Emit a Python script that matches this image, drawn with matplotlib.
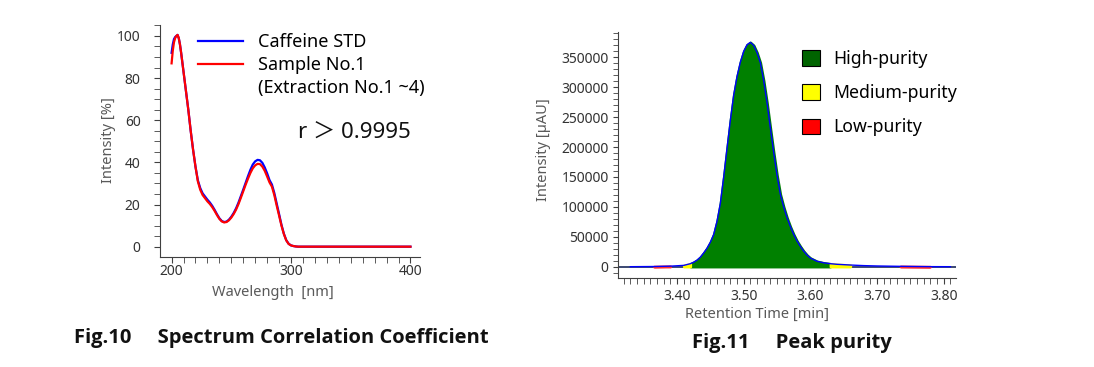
import matplotlib
matplotlib.use("Agg")

import matplotlib.pyplot as plt
import numpy as np
from matplotlib.lines import Line2D
from matplotlib.patches import Patch
from matplotlib.ticker import FormatStrFormatter, MultipleLocator

plt.rcParams["font.family"] = ["Noto Sans", "Noto Sans CJK JP", "DejaVu Sans"]

# ------------------------------------------------------------
# Fig.10 data: UV spectra
# ------------------------------------------------------------
wavelength = [200, 201, 202, 203, 204, 205, 206, 207, 208, 210, 212, 214, 216, 218,
              220, 222, 224, 226, 228, 230, 232, 234, 236, 238, 240, 242, 244, 246,
              248, 250, 252, 254, 256, 258, 260, 262, 264, 266, 268, 270, 272, 274,
              276, 278, 280, 282, 284, 286, 288, 290, 292, 294, 296, 298, 300, 302,
              304, 306, 400]

caffeine_std = [92, 96, 98.5, 99.5, 100, 100.5, 99, 96, 92, 83, 74, 65, 55, 46,
                38, 31.5, 27.8, 25.3, 23.8, 22.3, 21, 19.4, 17.5, 15.4, 13.5, 12.2, 11.7, 11.9,
                12.8, 14.2, 16, 18.2, 20.9, 24, 27.1, 30.3, 33.5, 36.5, 39, 40.5, 41.2, 41,
                39.8, 37.6, 34.8, 31.6, 29.5, 25.5, 20.5, 15.5, 10.4, 6.2, 3.1, 1.4, 0.6, 0.3,
                0.1, 0, 0]

sample_no1 = [87, 93, 97, 99, 100, 100.5, 99, 96, 92, 83, 74, 65, 55, 46,
              38, 31, 27, 24.5, 23, 21.5, 20.3, 18.8, 17, 15, 13.2, 12, 11.5, 11.7,
              12.5, 13.8, 15.5, 17.6, 20.2, 23.2, 26.3, 29.4, 32.3, 35, 37.2, 38.6, 39.3, 39.2,
              38, 36, 33.3, 30.5, 28.5, 24.5, 19.5, 14.8, 10, 6, 3, 1.3, 0.6, 0.3,
              0.1, 0, 0]

# ------------------------------------------------------------
# Fig.11 data: chromatogram with purity zones
# ------------------------------------------------------------
ret_time = [3.330, 3.365, 3.390, 3.410, 3.420, 3.425, 3.430, 3.435, 3.440, 3.445,
            3.450, 3.455, 3.460, 3.465, 3.470, 3.475, 3.480, 3.485, 3.490, 3.495,
            3.500, 3.505, 3.510, 3.515, 3.520, 3.525, 3.530, 3.535, 3.540, 3.545,
            3.550, 3.555, 3.560, 3.565, 3.570, 3.575, 3.580, 3.585, 3.590, 3.595,
            3.600, 3.610, 3.620, 3.630, 3.640, 3.660, 3.680, 3.700, 3.735, 3.760,
            3.780, 3.810]

intensity = [0, 300, 900, 2200, 5000, 7500, 11000, 16000, 23000, 31000,
             41000, 54000, 76000, 106000, 150000, 198000, 245000, 287000, 318000, 342000,
             360000, 371000, 375000, 370000, 358000, 341000, 311000, 274000, 232000, 191000,
             153000, 121000, 100000, 82000, 67000, 54000, 43000, 34000, 26000, 19500,
             14500, 9000, 6500, 5000, 4000, 2800, 1800, 1200, 600, 300,
             100, 0]

purity_names = ["High-purity", "Medium-purity", "Low-purity"]
purity_colors = ["#008000", "#ffff00", "#ff3030"]
purity_legend_colors = ["#006400", "#ffff00", "#ff0000"]
# (start, end) retention windows per purity class
purity_zones = {
    "High-purity": [(3.42, 3.63)],
    "Medium-purity": [(3.41, 3.42), (3.63, 3.66)],
    "Low-purity": [(3.365, 3.39), (3.735, 3.78)],
}

W, H = 1094, 367


def fx(px):
    return px / W


def fy(py):
    return 1 - py / H


fig = plt.figure(figsize=(W / 100, H / 100), dpi=100)

tick_color = "#404040"
label_color = "#595959"
caption_font = ["Open Sans", "DejaVu Sans"]

# ============================================================
# Left panel
# ============================================================
ax1 = fig.add_axes([fx(160), fy(257), fx(420) - fx(160), fy(25) - fy(257)])

ax1.plot(wavelength, caffeine_std, color="#0000ff", lw=1.6, zorder=2)
ax1.plot(wavelength, sample_no1, color="#ff0000", lw=1.6, zorder=3)

ax1.set_xlim(190.3, 408)
ax1.set_ylim(-4.9, 105.2)
ax1.xaxis.set_major_locator(MultipleLocator(100))
ax1.xaxis.set_minor_locator(MultipleLocator(10))
ax1.yaxis.set_major_locator(MultipleLocator(20))
ax1.yaxis.set_minor_locator(MultipleLocator(5))

for s in ["top", "right"]:
    ax1.spines[s].set_visible(False)
for s in ["left", "bottom"]:
    ax1.spines[s].set_color(tick_color)

ax1.tick_params(axis="both", which="both", direction="out", color=tick_color,
                labelcolor="#333333", labelsize=10)
ax1.tick_params(axis="y", which="both", length=4, pad=10)
ax1.tick_params(axis="x", which="both", length=4, pad=1)

ax1.set_xlabel("Wavelength  [nm]", fontsize=10.5, color=label_color)
ax1.xaxis.set_label_coords((273 - 160) / 260, (257 - 285) / 232)
ax1.set_ylabel("Intensity [%]", fontsize=10.5, color=label_color)
ax1.yaxis.set_label_coords((116 - 160) / 260, (257 - 140) / 232)

handles = [
    Line2D([], [], color="#0000ff", lw=1.6),
    Line2D([], [], color="#ff0000", lw=1.6),
    Line2D([], [], color="none"),
]
ax1.legend(handles, ["Caffeine STD", "Sample No.1", "(Extraction No.1 ~4)"],
           loc="upper left", bbox_to_anchor=(fx(198), fy(33)),
           bbox_transform=fig.transFigure, frameon=False, fontsize=13,
           handlelength=2.5, handletextpad=0.8, labelspacing=0.28,
           borderpad=0, borderaxespad=0)

ax1.text(306, 54, "r \uff1e 0.9995", fontsize=16, color="#111111",
         ha="left", va="center",
         family=["Noto Sans", "Noto Sans CJK JP", "DejaVu Sans"])

fig.text(fx(74), fy(343), "Fig.10     Spectrum Correlation Coefficient",
         fontsize=14.5, fontweight="bold", ha="left", va="baseline", color="#111111",
         family=caption_font)

# ============================================================
# Right panel
# ============================================================
ax2 = fig.add_axes([fx(617.7), fy(278.3), fx(955.7) - fx(617.7), fy(31.7) - fy(278.3)])

t = np.array(ret_time)
y = np.array(intensity)

ax2.axhline(0, color="#1a2a5a", lw=1.2, zorder=1)

for name, color in zip(purity_names, purity_colors):
    for t0, t1 in purity_zones[name]:
        mask = (t >= t0 - 1e-9) & (t <= t1 + 1e-9)
        ax2.fill_between(t, 0, y, where=mask, color=color, lw=1.8,
                         edgecolor=color, zorder=2)

ax2.plot(t, y, color="#0000ff", lw=1.0, zorder=4)

ax2.set_xlim(3.311, 3.818)
ax2.set_ylim(-19400, 392800)
ax2.xaxis.set_major_locator(MultipleLocator(0.1))
ax2.xaxis.set_minor_locator(MultipleLocator(0.01))
ax2.xaxis.set_major_formatter(FormatStrFormatter("%.2f"))
ax2.yaxis.set_major_locator(MultipleLocator(50000))
ax2.yaxis.set_minor_locator(MultipleLocator(10000))

for s in ["top", "right"]:
    ax2.spines[s].set_visible(False)
for s in ["left", "bottom"]:
    ax2.spines[s].set_color(tick_color)

ax2.tick_params(axis="both", which="both", direction="out", color=tick_color,
                labelcolor="#333333", labelsize=10)
ax2.tick_params(axis="y", which="both", length=3.5, pad=3)
ax2.tick_params(axis="x", which="both", length=4, pad=4)

ax2.set_xlabel("Retention Time [min]", fontsize=10.5, color=label_color)
ax2.xaxis.set_label_coords((757 - 617.7) / 338, (278.3 - 307) / 246.6)
ax2.set_ylabel("Intensity [\u00b5AU]", fontsize=10.5, color=label_color)
ax2.yaxis.set_label_coords((551 - 617.7) / 338, (278.3 - 150) / 246.6)

patches = [Patch(facecolor=c, edgecolor="black", lw=0.8) for c in purity_legend_colors]
ax2.legend(patches, purity_names, loc="upper left",
           bbox_to_anchor=(fx(802), fy(50)), bbox_transform=fig.transFigure,
           frameon=False, fontsize=12.7, handlelength=1.0, handleheight=1.0,
           handletextpad=0.75, labelspacing=0.92, borderpad=0, borderaxespad=0)

fig.text(fx(692), fy(348), "Fig.11     Peak purity",
         fontsize=14.5, fontweight="bold", ha="left", va="baseline", color="#111111",
         family=caption_font)

fig.savefig("out.png", dpi=100)
